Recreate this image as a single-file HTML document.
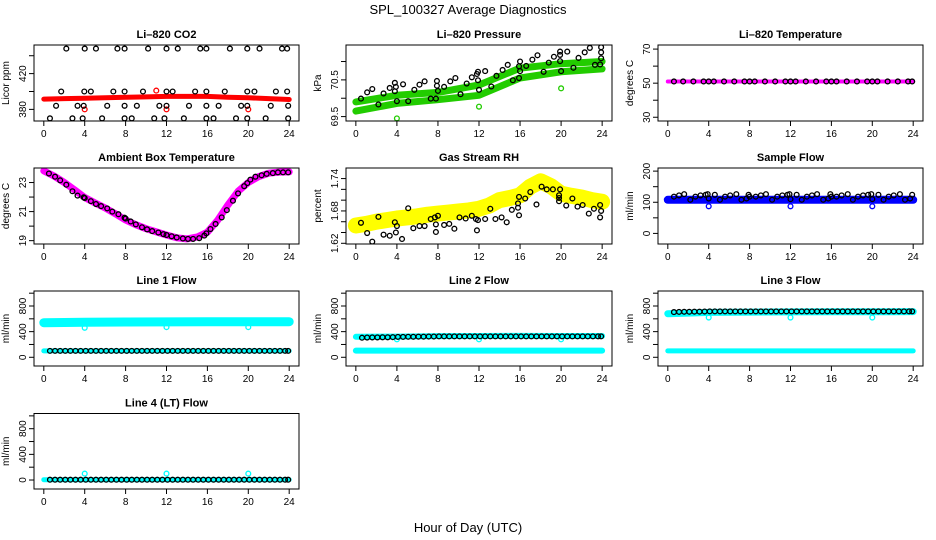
<!DOCTYPE html>
<html><head><meta charset="utf-8">
<style>
html,body{margin:0;padding:0;background:#fff;}
svg{display:block;font-family:"Liberation Sans",Arial,sans-serif;}
.t{font-weight:bold;font-size:11px;}
.tk{font-size:10px;}
</style></head>
<body>
<svg id="chart" width="936" height="540" viewBox="0 0 936 540">
<rect x="0" y="0" width="936" height="540" fill="#fff"/>
<text x="468" y="14" text-anchor="middle" font-size="13">SPL_100327  Average Diagnostics</text>
<text x="468" y="532" text-anchor="middle" font-size="13">Hour of Day (UTC)</text>
</svg>
<script>
// ---- data ----
const xTicks = [0,4,8,12,16,20,24];
// CO2
const co2BandH = [0,2,4,6,8,10,12,14,16,18,20,22,24];
const co2BandV = [391.5,392,392.5,393,393.5,394,394.5,394.5,394.5,393.5,393,392,391];
const co2H = [2.2,4.0,5.1,7.2,7.9,10.2,12.0,13.1,15.3,15.9,18.2,19.9,21.1,23.3,23.8,
  1.7,3.96,4.6,6.8,7.9,9.7,12.0,12.6,14.8,15.9,17.7,19.9,20.6,22.7,23.8,
  1.2,3.3,3.9,6.2,7.9,9.1,11.3,12.0,14.2,15.9,17.1,19.3,19.9,22.2,23.9,
  0.6,2.8,3.8,5.7,7.9,8.6,10.8,11.8,13.7,15.9,16.6,18.8,19.9,21.7,23.9];
const co2V = [448,448,448,448,448,448,448,448,448,448,448,448,448,448,448,
  400,400,400,400,400,400,400,400,400,400,400,400,400,400,400,
  384,384,384,384,384,384,384,384,384,384,384,384,384,384,384,
  370,370,370,370,370,370,370,370,370,370,370,370,370,370,370];
const co2OutH = [4.0,12.0,20.0,11.0];
const co2OutV = [380,380,380,401];
// Pressure
const presBandH = [0,4,8,12,16,20,24];
const presLow = [69.65,69.86,69.96,70.08,70.55,70.72,70.8];
const presUp = [69.9,70.08,70.16,70.36,70.82,70.94,71.0];
const presH = [0.5,1.1,1.6,2.2,2.7,3.3,3.8,3.8,3.9,4.0,4.6,5.1,5.7,6.2,6.7,7.3,7.8,7.9,7.9,8.0,8.6,9.2,9.7,10.2,10.8,11.3,11.8,11.9,11.9,12.0,12.6,13.2,13.7,14.3,14.8,15.3,15.9,15.9,16.0,16.0,16.6,17.2,17.7,18.3,18.8,19.3,19.9,19.9,19.9,20.0,20.6,21.2,21.7,22.3,22.8,23.3,23.9,23.9,23.9,23.8];
const presV = [69.99,70.16,70.25,69.83,70.13,70.28,70.42,70.19,70.31,69.92,70.38,69.92,70.23,70.37,70.46,69.99,69.99,70.47,70.34,70.20,70.31,70.46,70.55,70.11,70.40,70.57,70.66,70.49,70.72,70.23,70.74,70.32,70.61,70.77,70.91,70.49,70.55,70.87,71.0,70.74,70.88,71.05,71.17,70.72,70.97,71.13,71.01,71.18,71.27,70.74,71.27,70.83,71.10,71.25,71.37,70.91,71.39,71.25,71.09,70.92];
const presOutH = [4.0,12.0,20.0];
const presOutV = [69.45,69.77,70.27];
// Li-820 temperature
const tempBandH = [0,24];
const tempBandV = [51,51];
const tempH = [0.6,1.5,2.5,3.5,4,4.5,5.5,6.5,7.5,8,8.5,9.5,10.5,11.5,12,12.5,13.5,14.5,15.5,16,16.5,17.5,18.5,19.5,20,20.5,21.5,22.5,23.5,23.9];
const tempV = [51,51,51,51,51,51,51,51,51,51,51,51,51,51,51,51,51,51,51,51,51,51,51,51,51,51,51,51,51,51];
// Ambient
const ambBandH = [0,1,2,3,4,5,6,7,8,9,10,11,12,13,14,15,16,17,18,19,20,21,22,23,24];
const ambBandV = [23.8,23.45,23.0,22.5,21.97,21.6,21.25,20.85,20.42,20.1,19.82,19.6,19.39,19.2,19.12,19.25,19.58,20.4,21.45,22.4,23.0,23.4,23.64,23.72,23.73];
const ambH = [0.5,1.1,1.6,2.2,2.8,3.3,3.9,4.0,4.6,5.1,5.6,6.2,6.7,7.3,7.9,8.0,8.5,9.0,9.6,10.1,10.6,11.2,11.7,12.0,12.5,13.0,13.6,14.1,14.6,15.2,15.7,15.9,16.3,16.8,17.4,17.9,18.5,19.0,19.6,19.9,20.2,20.7,21.3,21.8,22.4,22.9,23.4,23.9];
const ambV = [23.62,23.4,23.15,22.85,22.4,22.1,21.98,21.93,21.72,21.52,21.38,21.22,21.0,20.82,20.58,20.52,20.32,20.12,19.92,19.78,19.66,19.56,19.45,19.39,19.3,19.22,19.15,19.12,19.12,19.17,19.35,19.5,19.8,20.15,20.6,21.1,21.75,22.25,22.75,22.96,23.2,23.4,23.5,23.6,23.65,23.7,23.7,23.7];
// RH
const rhBandH = [0,1,2,3,4,5,6,7,8,9,10,11,12,13,14,15,16,17,18,19,20,21,22,23,24];
const rhBandV = [1.653,1.656,1.66,1.663,1.666,1.668,1.67,1.673,1.675,1.677,1.679,1.681,1.684,1.69,1.70,1.704,1.709,1.725,1.735,1.726,1.712,1.708,1.705,1.70,1.697];
const rhH = [0.5,1.1,1.6,2.2,2.7,3.3,3.8,3.9,4.0,4.5,5.1,5.6,6.2,6.7,7.3,7.7,7.8,7.8,8.0,8.6,9.1,9.6,10.1,10.7,11.3,11.7,11.8,11.9,12.6,13.1,13.6,14.2,14.7,15.2,15.8,15.8,15.9,15.9,16.5,17.0,17.6,18.1,18.6,19.2,19.8,19.8,19.9,19.8,20.5,21.1,21.6,22.1,22.7,23.2,23.8,23.8,23.9];
const rhV = [1.658,1.639,1.623,1.669,1.636,1.634,1.659,1.640,1.652,1.628,1.685,1.648,1.652,1.652,1.665,1.668,1.655,1.641,1.671,1.654,1.656,1.647,1.668,1.666,1.671,1.665,1.644,1.663,1.665,1.684,1.665,1.668,1.659,1.682,1.694,1.686,1.706,1.672,1.703,1.715,1.692,1.725,1.72,1.72,1.709,1.698,1.720,1.704,1.69,1.703,1.688,1.691,1.675,1.684,1.691,1.668,1.68];
// Sample flow
const sfBandH = [0,24];
const sfBandV = [108,108];
const sfH = [0.6,1.1,1.6,2.2,2.7,3.2,3.7,3.9,4.0,4.6,5.1,5.6,6.1,6.7,7.2,7.7,7.9,8.0,8.6,9.1,9.6,10.2,10.7,11.2,11.7,11.9,12.0,12.6,13.1,13.6,14.1,14.6,15.2,15.7,15.9,16.0,16.5,17.0,17.6,18.1,18.6,19.1,19.6,19.9,20.0,20.6,21.1,21.6,22.1,22.7,23.2,23.7,23.9];
const sfV = [118,122,126,108,118,122,124,126,112,124,108,118,122,126,108,112,124,118,118,122,126,108,118,122,124,126,110,124,108,118,122,126,108,112,126,118,118,122,126,108,118,122,124,126,110,124,108,118,122,126,108,112,124];
const sfOutH = [4.0,12.0,20.0];
const sfOutV = [87,87,87];
// Line flows
const flowH = [0.6,1.1,1.6,2.1,2.6,3.1,3.6,4.1,4.6,5.1,5.6,6.1,6.6,7.1,7.6,8.1,8.6,9.1,9.6,10.1,10.6,11.1,11.6,12.1,12.6,13.1,13.6,14.1,14.6,15.1,15.6,16.1,16.6,17.1,17.6,18.1,18.6,19.1,19.6,20.1,20.6,21.1,21.6,22.1,22.6,23.1,23.6,23.9];
const l1BandH = [0,4,8,12,16,20,24];
const l1BandV = [540,545,550,552,555,555,555];
const l1Low = [100,100];
const l1V = [100,100,100,100,100,100,100,100,100,100,100,100,100,100,100,100,100,100,100,100,100,100,100,100,100,100,100,100,100,100,100,100,100,100,100,100,100,100,100,100,100,100,100,100,100,100,100,100];
const l2BandH = [0,4,8,12,16,20,24];
const l2BandV = [320,322,330,332,333,332,332];
const l2Low = [105,105];
const l2V = [305,308,310,310,312,312,314,318,318,320,320,322,322,324,324,326,326,326,326,326,326,326,326,326,326,326,326,326,326,326,326,326,326,326,326,326,326,326,326,326,326,326,326,326,326,326,326,326];
const l3BandH = [0,2,4,8,12,16,20,24];
const l3BandV = [680,690,700,705,708,710,710,712];
const l3Low = [100,100];
const l3V = [705,708,710,710,712,712,714,716,716,716,716,716,716,716,716,716,716,716,716,716,716,716,716,716,716,716,716,716,716,716,716,716,716,716,716,716,716,716,716,716,716,716,716,716,716,716,716,716];
const l4BandV = [5,5];
const l4V = [5,5,5,5,5,5,5,5,5,5,5,5,5,5,5,5,5,5,5,5,5,5,5,5,5,5,5,5,5,5,5,5,5,5,5,5,5,5,5,5,5,5,5,5,5,5,5,5];
const flowOutH = [4.0,12.0,20.0];
const l1OutV = [460,470,470];
const l2OutV = [280,280,280];
const l3OutV = [620,620,620];
const l4OutV = [100,100,100];

// ---- layout ----
const svg = document.getElementById('chart');
const NS = 'http://www.w3.org/2000/svg';
const COLS = [[34,299],[346,612],[658,923]];
const ROWS = [[45,121],[168,244],[291,366],[413.5,489]];
let clipN = 0;
function mk(tag, attrs, parent){
  const e = document.createElementNS(NS, tag);
  for (const k in attrs) e.setAttribute(k, attrs[k]);
  (parent||svg).appendChild(e);
  return e;
}
function panel(name, c, r, title, ylab, ylim, yticks, ylabels){
  const L = COLS[c][0], R = COLS[c][1], T = ROWS[r][0], B = ROWS[r][1];
  const g = mk('g', {});
  
  
  const xs = h => L + (h + 0.96) / 25.92 * (R - L);
  const ys = v => B - (v - ylim[0]) / (ylim[1] - ylim[0]) * (B - T);
  const id = 'cp' + (clipN++);
  const cp = mk('clipPath', {id:id}, g);
  mk('rect', {x:L, y:T, width:R-L, height:B-T}, cp);
  const plot = mk('g', {'clip-path':'url(#'+id+')'}, g);
  
  
  const box = mk('rect', {x:L, y:T, width:R-L, height:B-T, fill:'none', stroke:'#000', 'stroke-width':1}, g);
  
  
  const tt = mk('text', {x:(L+R)/2, y:T-7, 'text-anchor':'middle', class:'t'}, g);
  tt.textContent = title;
  
  
  const yl = mk('text', {transform:'translate('+(L-25)+','+((T+B)/2)+') rotate(-90)', 'text-anchor':'middle', 'font-size':10}, g);
  yl.textContent = ylab;
  
  
  xTicks.forEach(h => {
    const x = xs(h);
    mk('line', {x1:x, x2:x, y1:B, y2:B+5, stroke:'#000', 'stroke-width':1}, g);
    const t = mk('text', {x:x, y:B+16, 'text-anchor':'middle', class:'tk'}, g);
    t.textContent = h;
    
    
  });
  yticks.forEach(v => {
    const y = ys(v);
    mk('line', {x1:L-5, x2:L, y1:y, y2:y, stroke:'#000', 'stroke-width':1}, g);
  });
  ylabels.forEach(v => {
    const y = ys(v);
    const t = mk('text', {transform:'translate('+(L-8)+','+y+') rotate(-90)', 'text-anchor':'middle', class:'tk'}, g);
    t.textContent = v;
    
    
  });
  return {
    band(hs, vs, color, w){
      const pts = hs.map((h,i) => xs(h).toFixed(1)+','+ys(vs[i]).toFixed(1)).join(' ');
      const p = mk('polyline', {points:pts, fill:'none', stroke:color, 'stroke-width':w, 'stroke-linecap':'round', 'stroke-linejoin':'round'}, plot);
      
      
    },
    pts(hs, vs, color){
      hs.forEach((h,i) => {
        const e = mk('circle', {cx:xs(h), cy:ys(vs[i]), r:2.4, fill:'none', stroke:color, 'stroke-width':1.3}, plot);
        
        
      });
    }
  };
}

let p;
p = panel('co2', 0, 0, 'Li\u2013820 CO2', 'Licor ppm', [367,452], [380,400,420,440], [380,420]);
p.band(co2BandH, co2BandV, '#ff0000', 5);
p.pts(co2OutH, co2OutV, '#ff0000');
p.pts(co2H, co2V, '#000');

p = panel('pressure', 1, 0, 'Li\u2013820 Pressure', 'kPa', [69.38,71.45], [69.5,70,70.5,71], [69.5,70.5]);
p.band(presBandH, presLow, '#22cc00', 7);
p.band(presBandH, presUp, '#22cc00', 7);
p.pts(presOutH, presOutV, '#22cc00');
p.pts(presH, presV, '#000');

p = panel('li820-temperature', 2, 0, 'Li\u2013820 Temperature', 'degrees C', [27.8,72.4], [30,40,50,60,70], [30,50,70]);
p.band(tempBandH, tempBandV, '#ff00ff', 4);
p.pts(tempH, tempV, '#000');

p = panel('ambient-temperature', 0, 1, 'Ambient Box Temperature', 'degrees C', [18.77,24.0], [19,20,21,22,23], [19,21,23]);
p.band(ambBandH, ambBandV, '#ff00ff', 7);
p.pts(ambH, ambV, '#000');

p = panel('gas-stream-rh', 1, 1, 'Gas Stream RH', 'percent', [1.6187,1.7596], [1.62,1.64,1.66,1.68,1.70,1.72,1.74], ['1.62','1.68','1.74']);
p.band(rhBandH, rhBandV, '#ffff00', 16);
p.pts(rhH, rhV, '#000');

p = panel('sample-flow', 2, 1, 'Sample Flow', 'ml/min', [-34,210], [0,50,100,150,200], [0,100,200]);
p.band(sfBandH, sfBandV, '#0000ff', 8);
p.pts(sfOutH, sfOutV, '#0000ff');
p.pts(sfH, sfV, '#000');

const fy = [-136,1034], ft = [0,200,400,600,800,1000], fl = [0,400,800];
p = panel('line1-flow', 0, 2, 'Line 1 Flow', 'ml/min', fy, ft, fl);
p.band(l1BandH, l1BandV, '#00ffff', 9);
p.band([0,24], l1Low, '#00ffff', 5);
p.pts(flowOutH, l1OutV, '#00ffff');
p.pts(flowH, l1V, '#000');

p = panel('line2-flow', 1, 2, 'Line 2 Flow', 'ml/min', fy, ft, fl);
p.band(l2BandH, l2BandV, '#00ffff', 6);
p.band([0,24], l2Low, '#00ffff', 6);
p.pts(flowOutH, l2OutV, '#00ffff');
p.pts(flowH, l2V, '#000');

p = panel('line3-flow', 2, 2, 'Line 3 Flow', 'ml/min', fy, ft, fl);
p.band(l3BandH, l3BandV, '#00ffff', 7);
p.band([0,24], l3Low, '#00ffff', 5);
p.pts(flowOutH, l3OutV, '#00ffff');
p.pts(flowH, l3V, '#000');

p = panel('line4-flow', 0, 3, 'Line 4 (LT) Flow', 'ml/min', [-140,1037], ft, fl);
p.band([0,24], l4BandV, '#00ffff', 5);
p.pts(flowOutH, l4OutV, '#00ffff');
p.pts(flowH, l4V, '#000');
</script>
</body></html>
